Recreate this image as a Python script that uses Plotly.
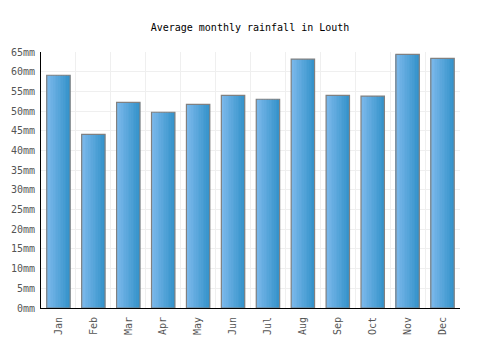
import plotly.graph_objects as go

months = ["Jan", "Feb", "Mar", "Apr", "May", "Jun", "Jul", "Aug", "Sep", "Oct", "Nov", "Dec"]
rainfall = [59.1, 44.1, 52.2, 49.7, 51.7, 54.0, 53.0, 63.2, 54.0, 53.8, 64.4, 63.4]
title_text = "Average monthly rainfall in Louth"

BAR_W = 0.67
N = 14
c0 = (0x7c, 0xb9, 0xeb)
c1 = (0x36, 0x93, 0xcb)

fig = go.Figure()
for i in range(N):
    t = i / (N - 1)
    col = tuple(round(c0[k] + (c1[k] - c0[k]) * t) for k in range(3))
    fig.add_trace(go.Bar(
        x=months, y=rainfall,
        width=BAR_W / N + 0.004,
        offset=-BAR_W / 2 + i * BAR_W / N,
        marker=dict(color="rgb(%d,%d,%d)" % col, line=dict(width=0)),
        hoverinfo="skip", showlegend=False,
    ))
fig.add_trace(go.Bar(
    x=months, y=rainfall,
    width=BAR_W, offset=-BAR_W / 2,
    marker=dict(color="rgba(0,0,0,0)", line=dict(color="#808080", width=1.2)),
    showlegend=False,
))

font = "DejaVu Sans Mono"
fig.update_layout(
    width=500, height=350,
    barmode="overlay",
    margin=dict(l=41, r=40, t=52, b=42),
    plot_bgcolor="white", paper_bgcolor="white",
    title=dict(text=title_text, x=0.5, xanchor="center", y=0.922, yanchor="middle",
               font=dict(family=font, size=10, color="#000000")),
    xaxis=dict(
        type="category", tickson="boundaries", showgrid=True, gridcolor="#efefef",
        showline=True, linecolor="#000000", linewidth=1, ticks="",
        tickangle=-90, tickfont=dict(family=font, size=10, color="#555555"),
        ticklabelstandoff=4,
        range=[-0.5, 11.5],
    ),
    yaxis=dict(
        range=[0, 65], dtick=5, ticksuffix="mm", showgrid=True, gridcolor="#efefef",
        showline=True, linecolor="#000000", linewidth=1, ticks="", zeroline=False,
        tickfont=dict(family=font, size=10, color="#555555"),
        ticklabelstandoff=3,
    ),
)
fig.write_html("out.html")
